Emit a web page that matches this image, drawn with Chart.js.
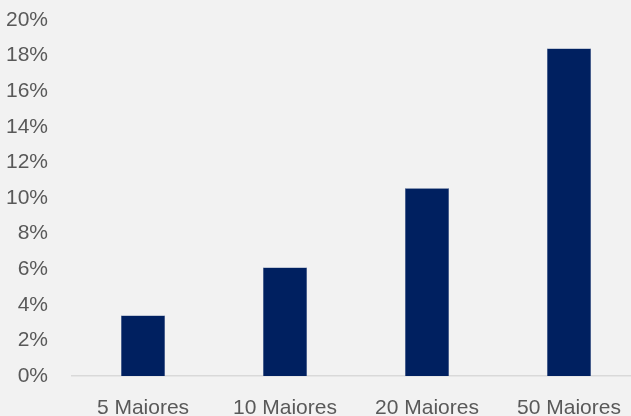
<!DOCTYPE html>
<html lang="pt">
<head>
<meta charset="UTF-8">
<title>Maiores</title>
<script src="https://cdn.jsdelivr.net/npm/chart.js"></script>
<style>
  html, body { margin: 0; padding: 0; background: #f2f2f2; overflow: hidden; }
  #wrap { width: 640px; height: 416px; }
</style>
</head>
<body>
<div id="wrap"><canvas id="chart"></canvas></div>
<script>
const categories = ["5 Maiores", "10 Maiores", "20 Maiores", "50 Maiores"];
const shares = [3.4, 6.1, 10.55, 18.4];
const yTicks = [0, 2, 4, 6, 8, 10, 12, 14, 16, 18, 20];

const font = { family: "'Liberation Sans', Arial, sans-serif", size: 21 };

new Chart(document.getElementById("chart"), {
  type: "bar",
  data: {
    labels: categories,
    datasets: [{
      data: shares,
      backgroundColor: "#002060",
      borderColor: "#2f4a80",
      borderWidth: 0.5,
      categoryPercentage: 1,
      barPercentage: 0.31
    }]
  },
  options: {
    responsive: true,
    maintainAspectRatio: false,
    animation: false,
    layout: { padding: { top: 20, right: 0, bottom: 0, left: 0 } },
    plugins: { legend: { display: false }, tooltip: { enabled: false } },
    scales: {
      x: {
        grid: { display: false },
        border: { color: "#d9d9d9", width: 1.5 },
        ticks: { color: "#595959", font: font, padding: 12, maxRotation: 0 },
        afterFit: s => { s.height = 40; }
      },
      y: {
        min: 0, max: 20,
        afterBuildTicks: s => { s.ticks = yTicks.map(v => ({ value: v })); },
        grid: { display: false },
        border: { display: false },
        ticks: { color: "#595959", font: font, padding: 16, callback: v => v + "%" },
        afterFit: s => { s.width = 72; s.paddingTop = 0; s.paddingBottom = 0; }
      }
    }
  }
});
</script>
</body>
</html>
